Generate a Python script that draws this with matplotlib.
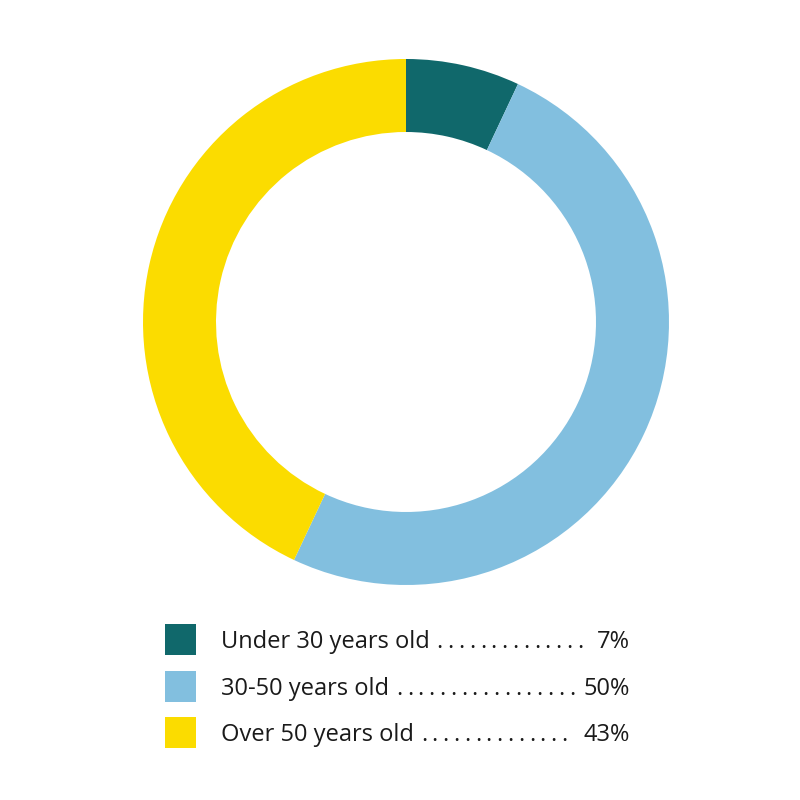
import matplotlib
matplotlib.use("Agg")
import matplotlib.pyplot as plt
from matplotlib.patches import Rectangle

plt.rcParams['font.family'] = ['Open Sans', 'DejaVu Sans']

labels = ["Under 30 years old", "30-50 years old", "Over 50 years old"]
values = [7, 50, 43]
pct_text = ["7%", "50%", "43%"]
colors = ["#10686b", "#82bfdf", "#fbdc00"]
n_dots = [14, 17, 14]

W = H = 800
fig = plt.figure(figsize=(8, 8), dpi=100)

# donut, centre (406, 322) px, radius 263 px
cx, cy, r = 406, 322, 263
ax = fig.add_axes([(cx - r) / W, (H - cy - r) / H, 2 * r / W, 2 * r / H])
ax.pie(values, colors=colors, startangle=90, counterclock=False,
       wedgeprops=dict(width=73 / 263, linewidth=0), radius=1)
ax.set_xlim(-1, 1)
ax.set_ylim(-1, 1)
ax.set_aspect('equal')
ax.axis('off')

# legend rows
row_y = [639, 686, 732]
fs = 17
txt_col = '#1a1a1a'
fig.canvas.draw()
renderer = fig.canvas.get_renderer()
for i, lab in enumerate(labels):
    y = row_y[i]
    fig.patches.append(Rectangle((165 / W, (H - y - 15.5) / H), 31 / W, 31 / H,
                                 transform=fig.transFigure, facecolor=colors[i],
                                 edgecolor='none'))
    t = fig.text(221 / W, (H - y) / H, lab, fontsize=fs, color=txt_col,
                 ha='left', va='center_baseline')
    bb = t.get_window_extent(renderer)
    # dotted leader
    x0 = bb.x1 + 7
    for k in range(n_dots[i]):
        fig.text((x0 + k * 10.8) / W, (H - y) / H, ".", fontsize=fs,
                 color=txt_col, ha='left', va='center_baseline')
    fig.text(630 / W, (H - y) / H, pct_text[i], fontsize=fs, color=txt_col,
             ha='right', va='center_baseline')

fig.savefig("out.png", dpi=100, facecolor='white')
